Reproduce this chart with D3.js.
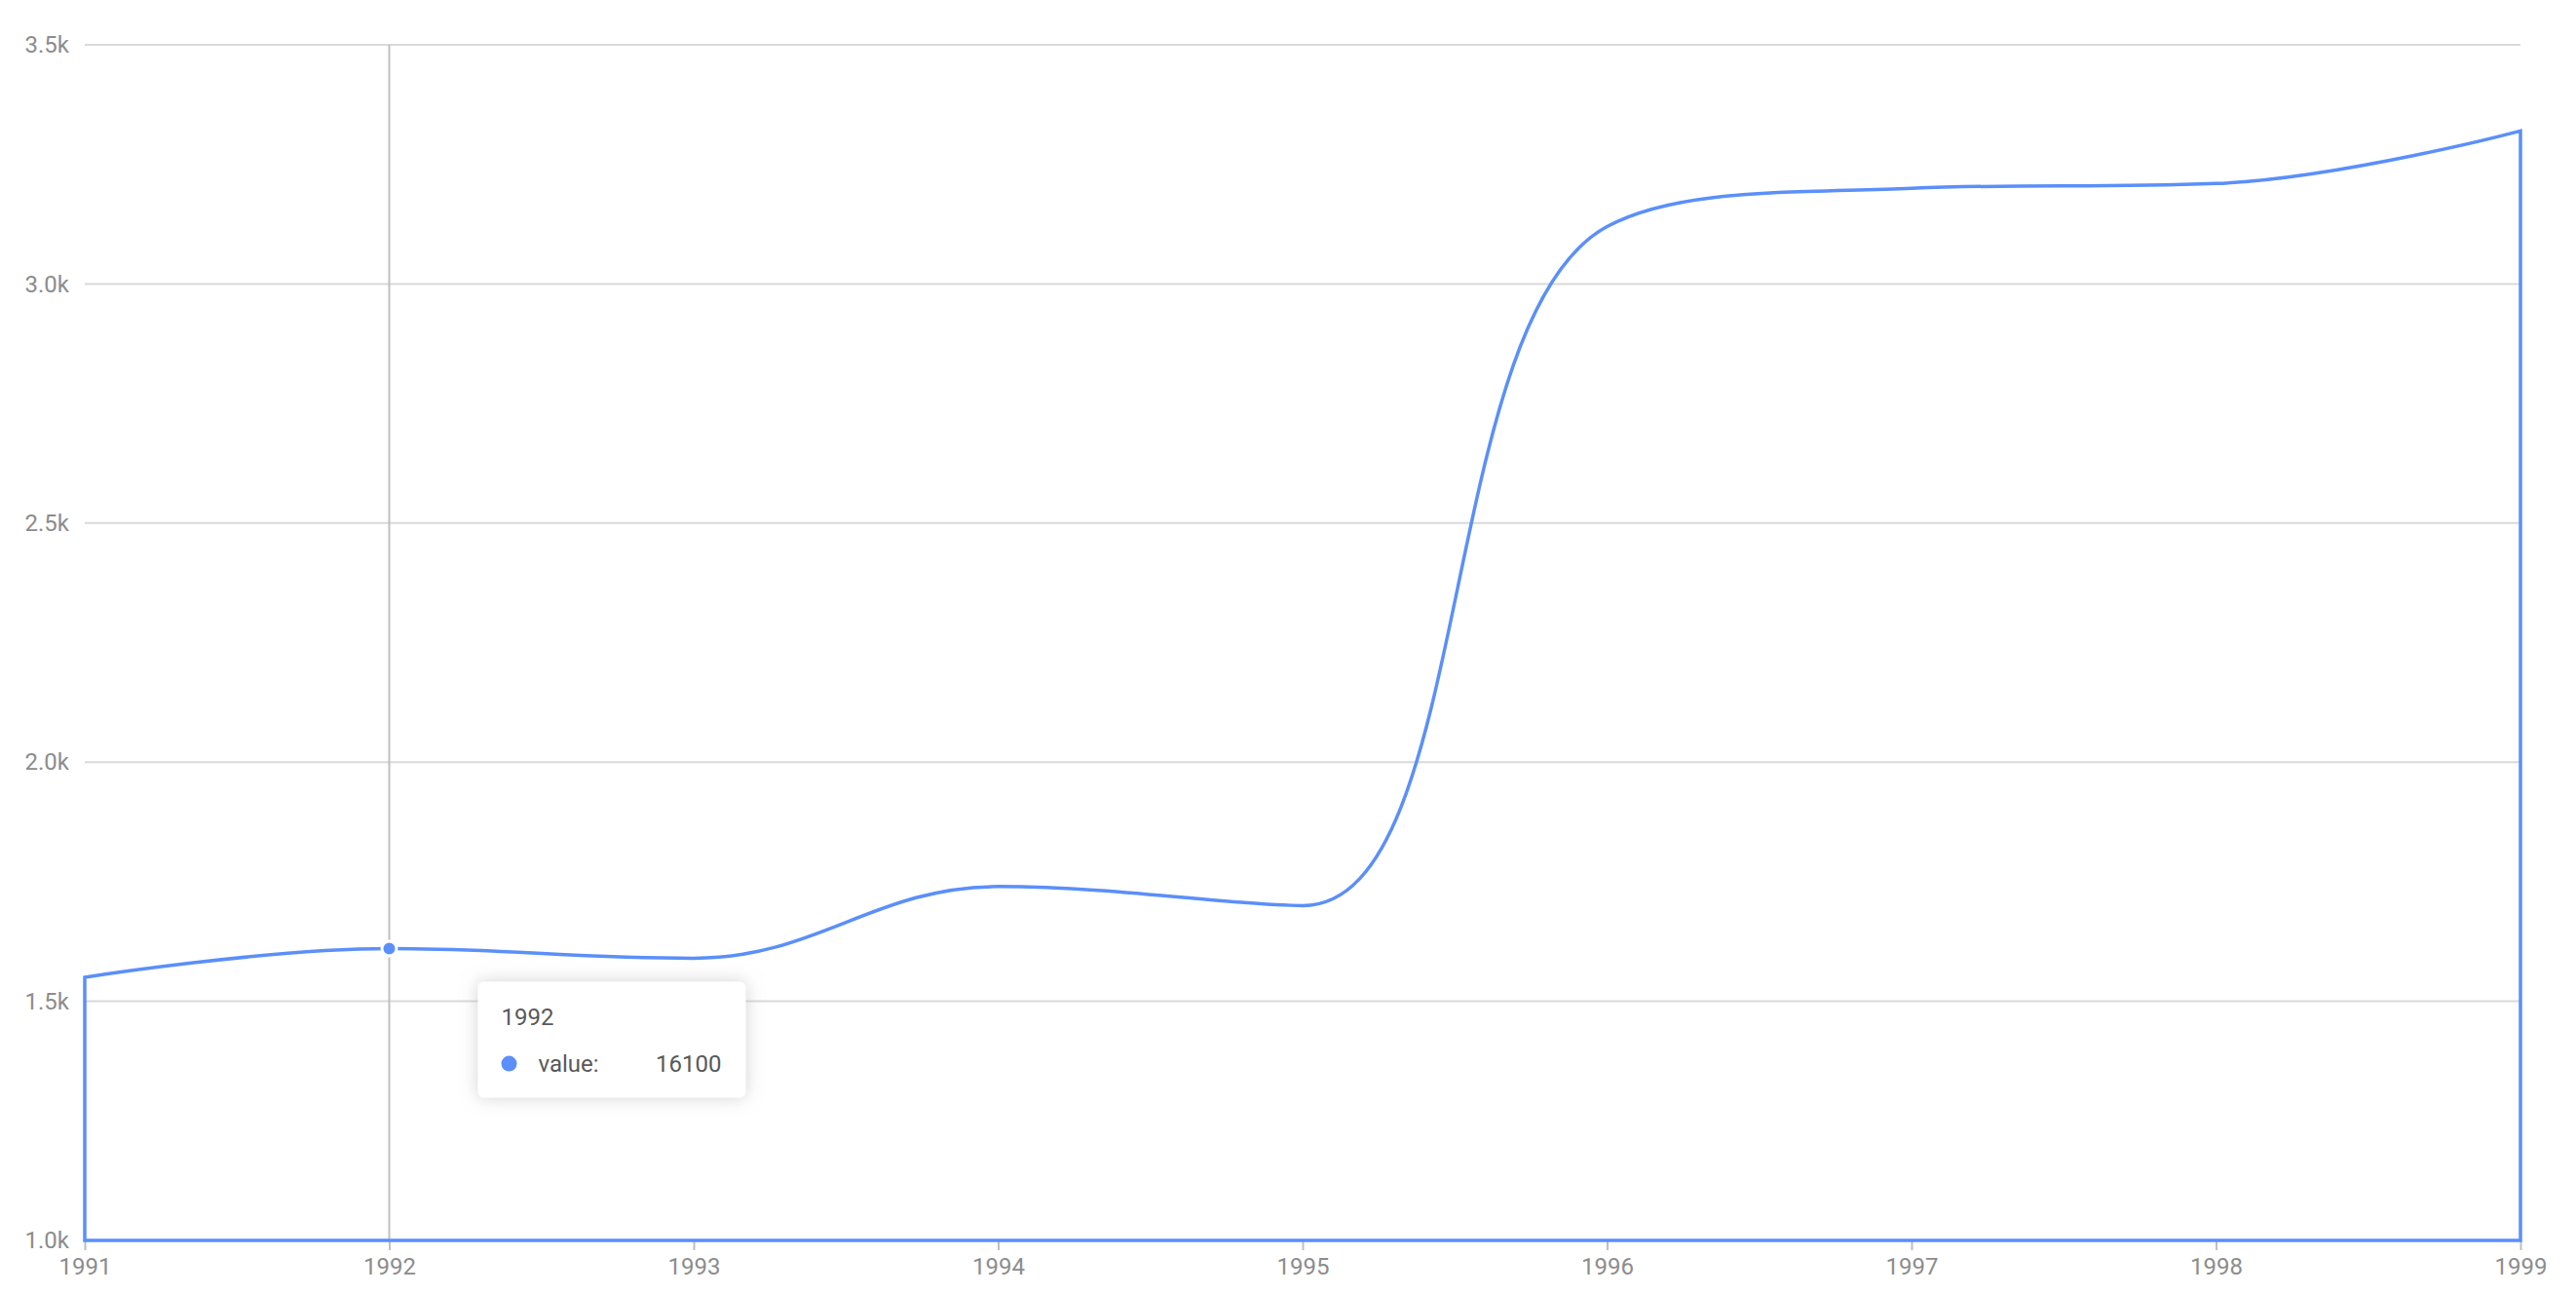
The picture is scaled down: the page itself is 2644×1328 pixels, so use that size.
<!DOCTYPE html>
<html>
<head>
<meta charset="utf-8">
<script src="https://cdn.jsdelivr.net/npm/d3@7"></script>
<style>
  html, body { margin: 0; padding: 0; background: #fff; }
  svg { display: block; font-family: Roboto, "Noto Sans", sans-serif; }
</style>
</head>
<body>
<svg id="chart" width="2644" height="1328"></svg>
<script>
// ---- data ----
const years = ["1991", "1992", "1993", "1994", "1995", "1996", "1997", "1998", "1999"];
const values = [15500, 16100, 15900, 17400, 17000, 31200, 32000, 32100, 33200];
const yTickValues = [10000, 15000, 20000, 25000, 30000, 35000];
const yTickLabels = ["1.0k", "1.5k", "2.0k", "2.5k", "3.0k", "3.5k"];
const activeIndex = 1;
const seriesName = "value";

(function () {
// ---- layout ----
const mLeft = 87, mRight = 2587, mTop = 46, mBottom = 1273;
const blue = "#5B8FF9";

const svg = d3.select("#chart");
const data = years.map((yr, i) => ({ year: yr, value: values[i] }));

const x = d3.scalePoint().domain(years).range([mLeft, mRight]);
const y = d3.scaleLinear().domain([10000, 35000]).range([mBottom, mTop]);

// grid lines
svg.append("g")
  .selectAll("line")
  .data(yTickValues)
  .join("line")
  .attr("x1", mLeft).attr("x2", mRight)
  .attr("y1", d => y(d)).attr("y2", d => y(d))
  .attr("stroke", "#d9d9d9")
  .attr("stroke-width", 2);

// y axis labels
const yAxis = d3.axisLeft(y)
  .tickValues(yTickValues)
  .tickFormat((d, i) => yTickLabels[i])
  .tickSize(0)
  .tickPadding(16);
const gy = svg.append("g").attr("transform", `translate(${mLeft},0)`).call(yAxis);
gy.select(".domain").remove();
gy.selectAll("text")
  .attr("fill", "#8c8c8c")
  .attr("font-size", 24)
  .attr("font-family", "Roboto, sans-serif");

// x axis
const xAxis = d3.axisBottom(x).tickSize(10).tickPadding(8);
const gx = svg.append("g").attr("transform", `translate(0,${mBottom})`).call(xAxis);
gx.select(".domain").remove();
gx.selectAll(".tick line").attr("stroke", "#bfbfbf").attr("stroke-width", 2);
gx.selectAll("text")
  .attr("fill", "#8c8c8c")
  .attr("font-size", 24)
  .attr("font-family", "Roboto, sans-serif");

// crosshair
svg.append("line")
  .attr("x1", x(years[activeIndex])).attr("x2", x(years[activeIndex]))
  .attr("y1", mTop).attr("y2", mBottom)
  .attr("stroke", "#bfbfbf")
  .attr("stroke-width", 2);

// smooth (clamped catmull-rom style) outline of the area, no fill
const pts = data.map(d => [x(d.year), y(d.value)]);
function controlPoints(points, smooth) {
  const n = points.length;
  const segs = [];
  let cp0 = points[0];
  for (let i = 1; i < n - 1; i++) {
    const p = points[i], prev = points[i - 1], next = points[i + 1];
    const v = [(next[0] - prev[0]) * smooth, (next[1] - prev[1]) * smooth];
    let d0 = Math.hypot(p[0] - prev[0], p[1] - prev[1]);
    let d1 = Math.hypot(p[0] - next[0], p[1] - next[1]);
    const sum = d0 + d1;
    if (sum !== 0) { d0 /= sum; d1 /= sum; }
    let nc = [p[0] + v[0] * d1, p[1] + v[1] * d1];
    for (let k = 0; k < 2; k++) {
      nc[k] = Math.min(nc[k], Math.max(next[k], p[k]));
      nc[k] = Math.max(nc[k], Math.min(next[k], p[k]));
    }
    let cp1 = [p[0] - (nc[0] - p[0]) * d0 / d1, p[1] - (nc[1] - p[1]) * d0 / d1];
    for (let k = 0; k < 2; k++) {
      cp1[k] = Math.min(cp1[k], Math.max(prev[k], p[k]));
      cp1[k] = Math.max(cp1[k], Math.min(prev[k], p[k]));
    }
    nc = [p[0] + (p[0] - cp1[0]) * d1 / d0, p[1] + (p[1] - cp1[1]) * d1 / d0];
    segs.push([cp0, cp1]);
    cp0 = nc;
  }
  segs.push([cp0, points[n - 1]]);
  return segs;
}
const segs = controlPoints(pts, 0.4);
const base = y(10000);
const path = d3.path();
path.moveTo(pts[0][0], base);
path.lineTo(pts[0][0], pts[0][1]);
segs.forEach((s, i) => {
  const p = pts[i + 1];
  path.bezierCurveTo(s[0][0], s[0][1], s[1][0], s[1][1], p[0], p[1]);
});
path.lineTo(pts[pts.length - 1][0], base);
path.closePath();

svg.append("path")
  .attr("d", path.toString())
  .attr("fill", "none")
  .attr("stroke", blue)
  .attr("stroke-width", 3.5)
  .attr("stroke-linejoin", "miter");

// active point
const ad = data[activeIndex];
svg.append("circle")
  .attr("cx", x(ad.year)).attr("cy", y(ad.value))
  .attr("r", 7.5)
  .attr("fill", blue)
  .attr("stroke", "#fff")
  .attr("stroke-width", 3);

// tooltip
const defs = svg.append("defs");
const f = defs.append("filter").attr("id", "shadow")
  .attr("x", "-30%").attr("y", "-40%").attr("width", "160%").attr("height", "180%");
f.append("feDropShadow")
  .attr("dx", 0).attr("dy", 0)
  .attr("stdDeviation", 9)
  .attr("flood-color", "#aeaeae")
  .attr("flood-opacity", 0.55);

const tx = x(ad.year) + 91, ty = y(ad.value) + 34;
const tip = svg.append("g").attr("transform", `translate(${tx},${ty})`);
tip.append("rect")
  .attr("width", 275).attr("height", 119)
  .attr("rx", 6)
  .attr("fill", "#fff")
  .attr("filter", "url(#shadow)");
tip.append("text")
  .attr("x", 24).attr("y", 44)
  .attr("font-size", 24)
  .attr("fill", "#595959")
  .text(ad.year);
tip.append("circle")
  .attr("cx", 32).attr("cy", 84)
  .attr("r", 8)
  .attr("fill", blue);
tip.append("text")
  .attr("x", 62).attr("y", 92)
  .attr("font-size", 24)
  .attr("fill", "#595959")
  .text(seriesName + ":");
tip.append("text")
  .attr("x", 250).attr("y", 92)
  .attr("text-anchor", "end")
  .attr("font-size", 24)
  .attr("fill", "#595959")
  .text(ad.value);
})();
</script>
</body>
</html>
